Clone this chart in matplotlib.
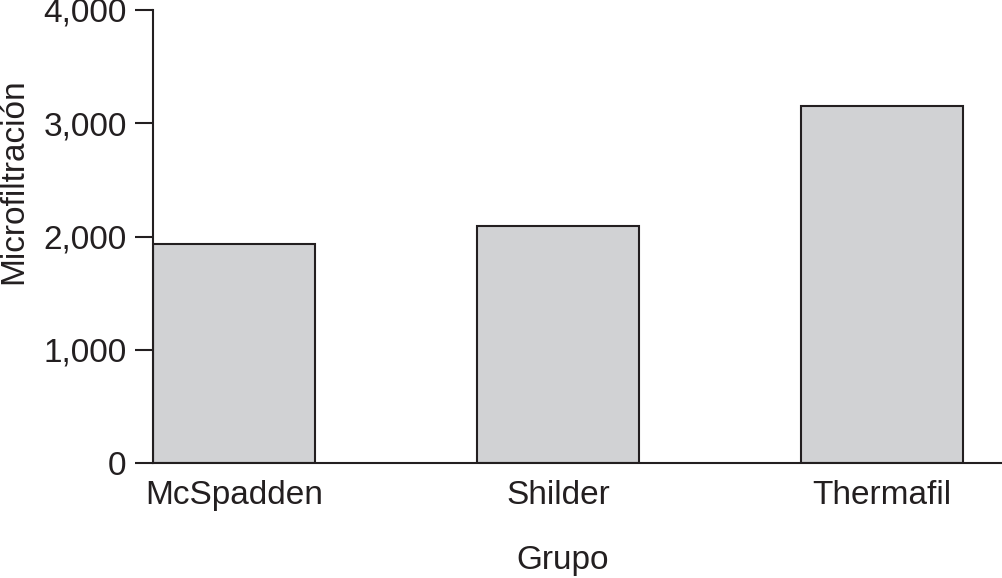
import matplotlib
matplotlib.use("Agg")
import matplotlib.pyplot as plt
from matplotlib.ticker import FuncFormatter

# data
grupos = ["McSpadden", "Shilder", "Thermafil"]
microfiltracion = [1930, 2090, 3150]
y_ticks = [0, 1000, 2000, 3000, 4000]

plt.rcParams["font.family"] = ["Liberation Sans", "DejaVu Sans"]
ink = "#231f20"
fs = 24

fig = plt.figure(figsize=(10.02, 5.78), dpi=100)
ax = fig.add_axes([153 / 1002, 115 / 578, 1 - 153 / 1002, (463 - 10) / 578])

x = range(len(grupos))
ax.bar(x, microfiltracion, width=0.5, color="#d1d2d4", edgecolor=ink, linewidth=1.5)

ax.set_xlim(-0.25, 2.37)
ax.set_ylim(0, 4000)
ax.set_yticks(y_ticks)
ax.yaxis.set_major_formatter(FuncFormatter(lambda v, p: f"{int(v):,}"))
ax.set_xticks(list(x))
ax.set_xticklabels(grupos)

ax.spines["top"].set_visible(False)
ax.spines["right"].set_visible(False)
for s in ("left", "bottom"):
    ax.spines[s].set_color(ink)
    ax.spines[s].set_linewidth(1.5)

ax.tick_params(axis="y", length=13, width=1.5, color=ink, labelsize=fs, pad=6, labelcolor=ink)
ax.tick_params(axis="x", length=0, labelsize=fs, pad=12, labelcolor=ink)

ax.set_ylabel("Microfiltración", fontsize=fs, color=ink)
ax.set_xlabel("Grupo", fontsize=fs, color=ink)
# label positions in axes fractions (axes spans x 153..1002, y 10..463 px)
ax.yaxis.set_label_coords((14 - 153) / 849, (463 - 181) / 453)
ax.xaxis.set_label_coords((563 - 153) / 849, -(560 - 463) / 453)
ax.xaxis.label.set_va("center")
ax.yaxis.label.set_va("center")

fig.savefig("out.png", dpi=100)
